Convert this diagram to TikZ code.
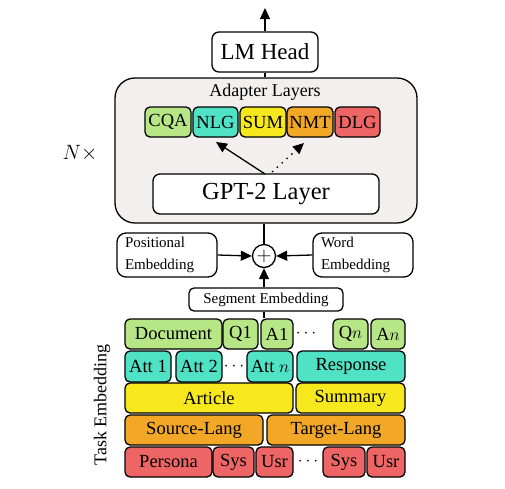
\documentclass[tikz,border=0pt]{standalone}
\usepackage{fontspec}
\setmainfont{Liberation Serif}
\usetikzlibrary{arrows.meta}
\definecolor{cgreen}{RGB}{183,230,135}
\definecolor{cteal}{RGB}{80,226,196}
\definecolor{cyellow}{RGB}{247,232,30}
\definecolor{corange}{RGB}{243,167,38}
\definecolor{cred}{RGB}{237,101,101}
\definecolor{cgray}{RGB}{242,239,238}
\tikzset{
  tbox/.style={draw=black, line width=1.3pt, rounded corners=5pt, inner sep=0pt, font=\fontsize{18.5}{20}\selectfont},
  wbox/.style={tbox, fill=white},
  arr/.style={line width=1.3pt, -{Triangle[length=11pt,width=10pt]}},
  ln/.style={line width=1.3pt},
}
\begin{document}
\begin{tikzpicture}[x=1pt,y=-1pt]
\useasboundingbox (0,0) rectangle (505,488);
% big adapter box
\node[draw=black, line width=1.3pt, rounded corners=20pt, fill=cgray, minimum width=302pt, minimum height=145pt, inner sep=0pt] (big) at (266,150.5) {};
\node[font=\fontsize{18}{20}\selectfont] (adl) at (265,92) {Adapter Layers};
\node[wbox, minimum width=106pt, minimum height=40pt, rounded corners=7pt, font=\fontsize{23}{24}\selectfont] (lm) at (265,52) {LM Head};
\coordinate (top) at (265,8);
\draw[arr] (lm.north) -- (top);
\draw[ln] (big.north -| lm.south) -- (lm.south);
% adapters
\node[tbox, fill=cgreen, minimum width=46pt, minimum height=30pt] (cqa) at (168,122) {CQA};
\node[tbox, fill=cteal, minimum width=45pt, minimum height=30pt] (nlg) at (215.5,122) {NLG};
\node[tbox, fill=cyellow, minimum width=46pt, minimum height=30pt] (sum) at (263,122) {SUM};
\node[tbox, fill=corange, minimum width=46pt, minimum height=30pt] (nmt) at (310,122) {NMT};
\node[tbox, fill=cred, minimum width=45pt, minimum height=30pt] (dlg) at (357.5,122) {DLG};
\node[wbox, minimum width=226pt, minimum height=40pt, rounded corners=7pt, font=\fontsize{24.5}{26}\selectfont] (gpt) at (266,194) {GPT-2 Layer};
\coordinate (g1) at (265,174);
\coordinate (g2) at (272,172);
\coordinate (t1) at (216,142);
\coordinate (t2) at (304,143);
\draw[arr] (g1) -- (t1);
\draw[line width=1.3pt, dash pattern=on 1.5pt off 5pt, -{Triangle[length=11pt,width=10pt]}] (g2) -- (t2);
\node[font=\fontsize{22}{24}\selectfont] (nx) at (80,153) {$N\times$};
% embeddings
\node[draw=black, line width=1.3pt, circle, fill=white, minimum size=23pt, inner sep=0pt, font=\fontsize{20}{20}\selectfont] (plus) at (264,256) {$+$};
\draw[ln] (big.south -| plus.north) -- (plus.north);
\node[wbox, rounded corners=9pt, minimum width=100pt, minimum height=44pt, text width=84pt, align=left, font=\fontsize{15}{22}\selectfont] (pos) at (167,255) {Positional\\Embedding};
\node[wbox, rounded corners=9pt, minimum width=100pt, minimum height=44pt, text width=84pt, align=left, font=\fontsize{15}{22}\selectfont] (word) at (363,255) {Word\\Embedding};
\node[wbox, rounded corners=5pt, minimum width=154pt, minimum height=23pt, font=\fontsize{15}{17}\selectfont] (seg) at (266,299.5) {Segment Embedding};
\draw[arr] (pos.east) -- (plus.west);
\draw[arr] (word.west) -- (plus.east);
\draw[arr] (seg.north -| plus.south) -- (plus.south);
% row 1
\node[tbox, fill=cgreen, minimum width=97pt, minimum height=30pt] (doc) at (173.5,334) {Document};
\node[tbox, fill=cgreen, minimum width=35pt, minimum height=30pt] (q1) at (240.5,334) {Q1};
\node[tbox, fill=cgreen, minimum width=32pt, minimum height=30pt] (a1) at (277,334) {A1};
\node[font=\fontsize{18}{20}\selectfont] (d1) at (306,334) {$\cdots$};
\node[tbox, fill=cgreen, minimum width=35pt, minimum height=30pt] (qn) at (350.5,334) {Q$n$};
\node[tbox, fill=cgreen, minimum width=34pt, minimum height=30pt] (an) at (388,334) {A$n$};
\draw[ln] (doc.north -| plus.south) -- (seg.south -| plus.south);
% row 2
\node[tbox, fill=cteal, minimum width=46pt, minimum height=31pt] (att1) at (148,366.5) {Att 1};
\node[tbox, fill=cteal, minimum width=46pt, minimum height=31pt] (att2) at (199,366.5) {Att 2};
\node[font=\fontsize{18}{20}\selectfont] (d2) at (234,366.5) {$\cdots$};
\node[tbox, fill=cteal, minimum width=46pt, minimum height=31pt] (attn) at (270,366.5) {Att $n$};
\node[tbox, fill=cteal, minimum width=108pt, minimum height=31pt] (resp) at (351,366.5) {Response};
% row 3
\node[tbox, fill=cyellow, minimum width=168pt, minimum height=30pt] (art) at (209,398) {Article};
\node[tbox, fill=cyellow, minimum width=109pt, minimum height=30pt] (summ) at (350.5,398) {Summary};
% row 4
\node[tbox, fill=corange, minimum width=138pt, minimum height=30pt] (src) at (194,430) {Source-Lang};
\node[tbox, fill=corange, minimum width=138pt, minimum height=30pt] (tgt) at (336,430) {Target-Lang};
% row 5
\node[tbox, fill=cred, minimum width=87pt, minimum height=30pt] (pers) at (168.5,462) {Persona};
\node[tbox, fill=cred, minimum width=41pt, minimum height=30pt] (sys1) at (233.5,462) {Sys};
\node[tbox, fill=cred, minimum width=37pt, minimum height=30pt] (usr1) at (274.5,462) {Usr};
\node[font=\fontsize{18}{20}\selectfont] (d5) at (308,462) {$\cdots$};
\node[tbox, fill=cred, minimum width=42pt, minimum height=30pt] (sys2) at (344,462) {Sys};
\node[tbox, fill=cred, minimum width=38pt, minimum height=30pt] (usr2) at (386,462) {Usr};
% task embedding label
\node[rotate=90, font=\fontsize{18}{20}\selectfont] (task) at (102,405) {Task Embedding};
\end{tikzpicture}
\end{document}
